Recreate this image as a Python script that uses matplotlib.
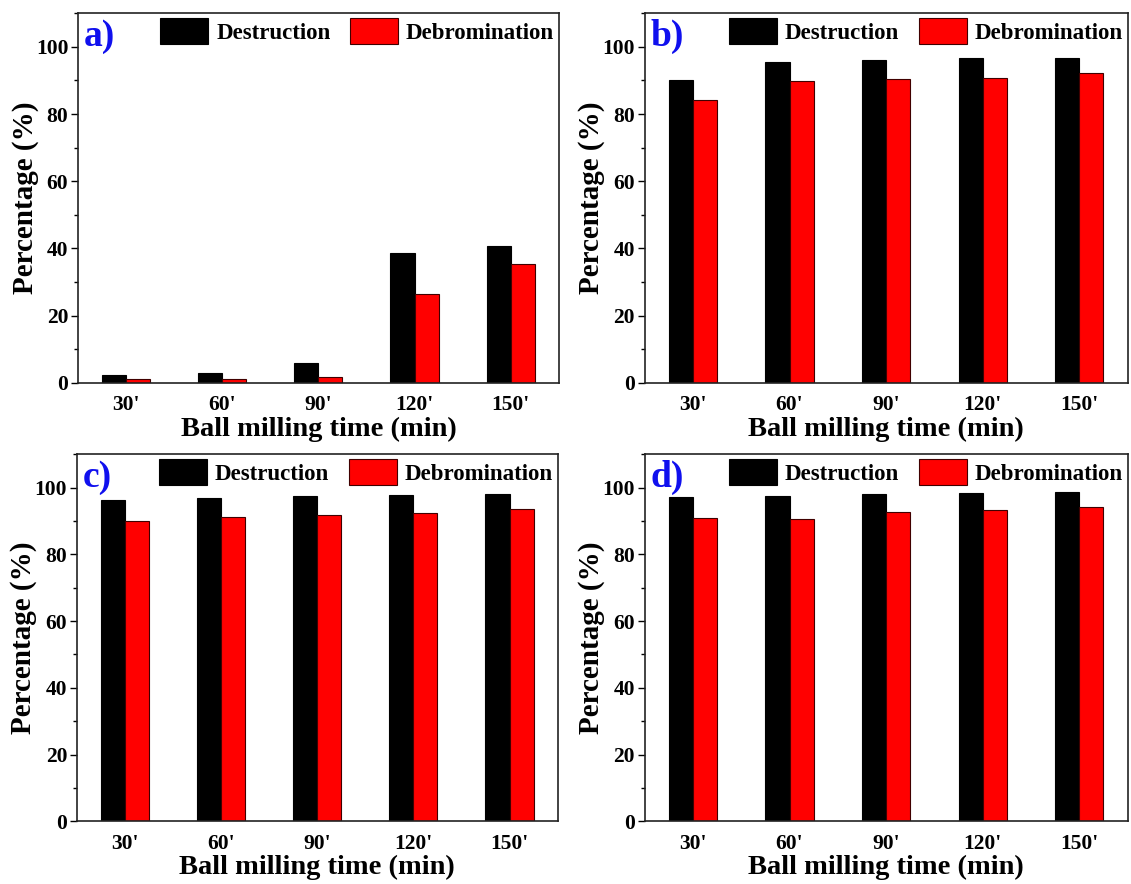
import numpy as np
import matplotlib
matplotlib.use("Agg")
import matplotlib.pyplot as plt
from matplotlib.ticker import MultipleLocator

plt.rcParams['font.family'] = ['Liberation Serif', 'DejaVu Serif']
plt.rcParams['font.weight'] = 'bold'
plt.rcParams['axes.labelweight'] = 'bold'

# Data
times = ["30'", "60'", "90'", "120'", "150'"]
panels = ["a)", "b)", "c)", "d)"]

destruction_a = [2.2, 3.0, 5.9, 38.6, 40.8]
debromination_a = [1.0, 1.2, 1.7, 26.5, 35.4]

destruction_b = [90.0, 95.5, 96.0, 96.6, 96.8]
debromination_b = [84.3, 89.7, 90.5, 90.7, 92.1]

destruction_c = [96.4, 96.8, 97.6, 97.9, 98.1]
debromination_c = [90.0, 91.1, 91.7, 92.4, 93.6]

destruction_d = [97.1, 97.5, 98.0, 98.3, 98.6]
debromination_d = [90.9, 90.6, 92.6, 93.4, 94.1]

series = [
    (destruction_a, debromination_a),
    (destruction_b, debromination_b),
    (destruction_c, debromination_c),
    (destruction_d, debromination_d),
]

# axes rectangles [left, bottom, width, height] in figure fraction
boxes = [
    [0.069, 0.567, 0.425, 0.418],
    [0.570, 0.567, 0.427, 0.418],
    [0.068, 0.071, 0.425, 0.415],
    [0.570, 0.071, 0.427, 0.415],
]

fig = plt.figure(figsize=(11.31, 8.84), dpi=100)

x = np.arange(1, len(times) + 1)
w = 0.25

for lab, (dest, debr), box in zip(panels, series, boxes):
    ax = fig.add_axes(box)
    ax.bar(x - w / 2, dest, w, color='black', edgecolor='black',
           linewidth=0.8, label='Destruction')
    ax.bar(x + w / 2, debr, w, color='#ff0000', edgecolor='#400000',
           linewidth=0.8, label='Debromination')

    ax.set_xlim(0.5, 5.5)
    ax.set_ylim(0, 110)
    ax.set_xticks(x)
    ax.set_xticklabels(times)
    ax.set_yticks([0, 20, 40, 60, 80, 100])
    ax.yaxis.set_minor_locator(MultipleLocator(10))
    ax.tick_params(axis='x', length=0, pad=9, labelsize=15.5)
    ax.tick_params(axis='y', which='major', direction='out', length=5,
                   width=1.0, pad=2, labelsize=15.5)
    ax.tick_params(axis='y', which='minor', direction='out', length=3,
                   width=1.0)
    for s in ax.spines.values():
        s.set_linewidth(1.2)
        s.set_color('#222222')

    ax.set_xlabel('Ball milling time (min)', fontsize=20.5, labelpad=1)
    ax.set_ylabel('Percentage (%)', fontsize=21, labelpad=-2)

    ax.text(0.012, 0.985, lab, transform=ax.transAxes, fontsize=27,
            color='#1010ee', fontweight='bold', va='top', ha='left')

    ax.legend(loc='upper right', ncol=2, frameon=False, fontsize=16.5,
              handlelength=2.1, handleheight=1.4, handletextpad=0.35,
              columnspacing=0.85, borderaxespad=0.1, borderpad=0.1)

fig.savefig('out.png', dpi=100)
